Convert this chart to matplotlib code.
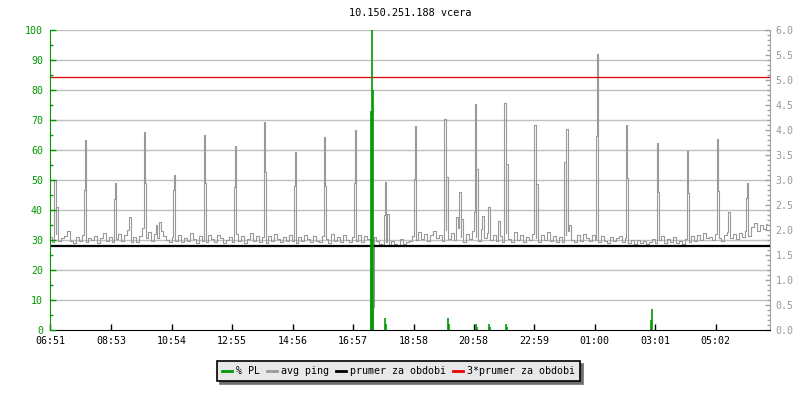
import matplotlib
matplotlib.use('Agg')
import matplotlib.pyplot as plt
from matplotlib.lines import Line2D

title = '10.150.251.188 vcera'
start_label = '06:51'
tick_labels = ['06:51', '08:53', '10:54', '12:55', '14:56', '16:57',
               '18:58', '20:58', '22:59', '01:00', '03:01', '05:02']

# avg ping [ms], one sample every 6 minutes from 06:51
base_step = 6
ping_base = [
    1.86, 1.76, 1.92, 1.78, 1.84, 1.88, 1.99, 1.79, 1.75, 1.87,
    1.78, 1.91, 1.77, 1.85, 1.80, 1.89, 1.75, 1.84, 1.95, 1.78,
    1.87, 1.76, 1.83, 1.93, 1.79, 1.90, 2.00, 1.77, 1.86, 1.76,
    1.88, 2.05, 1.85, 1.96, 1.79, 1.92, 1.84, 1.99, 1.89, 1.80,
    1.77, 1.87, 1.79, 1.91, 1.76, 1.85, 1.78, 1.94, 1.82, 1.75,
    1.88, 1.79, 1.76, 1.90, 1.83, 1.77, 1.91, 1.84, 1.74, 1.80,
    1.86, 1.77, 1.92, 1.79, 1.88, 1.75, 1.83, 1.95, 1.78, 1.89,
    1.77, 1.86, 1.75, 1.88, 1.79, 1.93, 1.83, 1.76, 1.87, 1.78,
    1.91, 1.79, 1.74, 1.86, 1.78, 1.90, 1.82, 1.76, 1.88, 1.79,
    1.77, 1.88, 1.82, 1.75, 1.92, 1.79, 1.86, 1.77, 1.90, 1.81,
    1.76, 1.87, 1.79, 1.91, 1.77, 1.88, 1.82, 1.75, 1.86, 1.79,
    1.72, 1.69, 1.76, 1.70, 1.79, 1.73, 1.68, 1.82, 1.72, 1.77,
    1.78, 1.89, 1.80, 1.96, 1.82, 1.93, 1.78, 1.90, 1.98, 1.84,
    1.90, 1.79, 2.00, 1.83, 1.94, 1.80, 2.04, 1.86, 1.77, 1.92,
    1.83, 1.98, 1.87, 1.78, 2.02, 1.84, 1.95, 1.80, 1.91, 1.79,
    1.89, 1.77, 1.94, 1.83, 1.76, 1.97, 1.81, 1.91, 1.77, 1.87,
    1.80, 1.92, 1.84, 1.76, 1.90, 1.81, 1.96, 1.79, 1.88, 1.77,
    1.86, 1.76, 1.91, 1.99, 1.81, 1.77, 1.90, 1.79, 1.93, 1.84,
    1.78, 1.90, 1.81, 1.76, 1.89, 1.79, 1.75, 1.87, 1.78, 1.84,
    1.88, 1.76, 1.84, 1.75, 1.81, 1.73, 1.80, 1.74, 1.79, 1.72,
    1.77, 1.83, 1.74, 1.80, 1.89, 1.75, 1.82, 1.76, 1.86, 1.74,
    1.79, 1.73, 1.82, 1.77, 1.88, 1.78, 1.91, 1.80, 1.95, 1.84,
    1.87, 1.80, 1.93, 1.85, 1.78, 1.91, 1.97, 1.84, 1.93, 1.83,
    1.94, 1.86, 1.98, 1.89, 2.06, 2.14, 1.99, 2.10, 2.03, 2.12,
]

# extra ping samples (minute from start: ms) - hourly spikes and the outage
ping_extra = {
    11: 3.00, 13: 2.46, 69: 2.80, 71: 3.80, 128: 2.62, 130: 2.94,
    161: 2.26, 189: 3.96, 191: 2.94, 212: 2.10, 221: 2.16,
    247: 2.80, 249: 3.10, 309: 3.90, 311: 2.94, 369: 2.86, 371: 3.68,
    429: 4.16, 431: 3.16, 489: 2.88, 491: 3.56, 549: 3.86, 551: 2.88,
    609: 2.94, 611: 4.00, 642: 0.00, 644: 0.00, 646: 0.46,
    669: 2.30, 671: 2.96, 677: 2.32, 729: 3.02, 731: 4.08,
    791: 4.22, 793: 3.06, 815: 2.26, 821: 2.76, 823: 2.22,
    849: 2.36, 851: 4.52, 853: 3.22, 865: 2.28, 877: 2.46, 899: 2.18,
    911: 4.54, 913: 3.32, 971: 4.10, 973: 2.92, 1031: 3.36, 1033: 4.02,
    1039: 2.10, 1093: 3.88, 1095: 5.52, 1153: 4.10, 1155: 3.04,
    1215: 3.74, 1217: 2.76, 1275: 3.58, 1277: 2.74, 1335: 3.82,
    1337: 2.78, 1357: 2.36, 1393: 2.64, 1395: 2.94,
}

# packet loss [%] (minute from start: %)
pl_samples = {
    642: 73, 644: 100, 646: 80, 669: 4, 671: 2, 795: 4, 797: 2,
    851: 2, 853: 1, 877: 2, 879: 1, 911: 2, 913: 1, 1201: 3.3, 1203: 7,
}

mean_ping = 1.69

green = '#009900'
gray = '#999999'

ping = {i * base_step: v for i, v in enumerate(ping_base)}
ping.update(ping_extra)
t_ping = sorted(ping)
v_ping = [ping[t] for t in t_ping]


def minutes_from_start(label):
    h, m = map(int, label.split(':'))
    sh, sm = map(int, start_label.split(':'))
    return (h * 60 + m - sh * 60 - sm) % 1440


plt.rcParams['font.family'] = 'DejaVu Sans Mono'
plt.rcParams['font.size'] = 7.2

fig = plt.figure(figsize=(8, 4), dpi=100)
ax = fig.add_axes([0.0625, 0.175, 0.9, 0.75])
ax_pl = ax.twinx()
ax.yaxis.tick_right()

# ping axis (right)
ax.set_xlim(0, 1440)
ax.set_ylim(0, 6)
for v in range(10, 101, 10):
    ax.axhline(v * 6 / 100, color='#c0c0c0', lw=1, zorder=0)
ax.plot(t_ping, v_ping, color=gray, lw=0.8, drawstyle='steps-mid', zorder=2)
ax.axhline(mean_ping, color='black', lw=1.6, zorder=3)
ax.axhline(3 * mean_ping, color='#dd0000', lw=0.9, zorder=3)

ax.set_yticks([i * 0.5 for i in range(13)])
ax.set_yticks([i * 0.1 for i in range(61)], minor=True)
ax.set_yticklabels(['%.1f' % (i * 0.5) for i in range(13)])
ax.tick_params(axis='y', which='major', direction='in', length=3.5, width=1,
               colors='#a0a0a0', labelcolor='#999999', pad=4)
ax.tick_params(axis='y', which='minor', direction='in', length=2, width=1,
               colors='#a0a0a0')
ax.set_xticks([minutes_from_start(l) for l in tick_labels])
ax.set_xticklabels(tick_labels)
ax.tick_params(axis='x', direction='in', length=4, width=1, colors='black', pad=4)
ax.spines['top'].set_visible(False)
ax.spines['left'].set_visible(False)
ax.spines['right'].set_color('#a0a0a0')
ax.spines['bottom'].set_color('black')

# packet loss axis (left)
ax_pl.set_ylim(0, 100)
ax_pl.yaxis.tick_left()
t_pl = sorted(pl_samples)
ax_pl.vlines(t_pl, 0, [pl_samples[t] for t in t_pl], color=green, lw=1.2)
ax_pl.set_yticks(range(0, 101, 10))
ax_pl.set_yticks(range(0, 101, 5), minor=True)
ax_pl.tick_params(axis='y', which='major', direction='in', length=4, width=1,
                  colors=green, pad=5)
ax_pl.tick_params(axis='y', which='minor', direction='in', length=2.5, width=1,
                  colors=green)
for s in ['top', 'right', 'bottom']:
    ax_pl.spines[s].set_visible(False)
ax_pl.spines['left'].set_color(green)

ax.set_title(title, fontsize=7.4, pad=10)

handles = [Line2D([], [], color=green, lw=2),
           Line2D([], [], color=gray, lw=2),
           Line2D([], [], color='black', lw=2),
           Line2D([], [], color='#ee0000', lw=2)]
labels = ['% PL', 'avg ping', 'prumer za obdobi', '3*prumer za obdobi']
leg = fig.legend(handles, labels, loc='center', bbox_to_anchor=(0.498, 0.0725),
                 ncol=4, fontsize=7.2, handlelength=1.0, handletextpad=0.4,
                 columnspacing=0.7, borderpad=0.5, fancybox=False,
                 framealpha=1, edgecolor='black', facecolor='#e8e8e8',
                 shadow={'color': '#6e6e6e', 'alpha': 1})
leg.get_frame().set_linewidth(1.2)

fig.savefig('out.png', dpi=100)
